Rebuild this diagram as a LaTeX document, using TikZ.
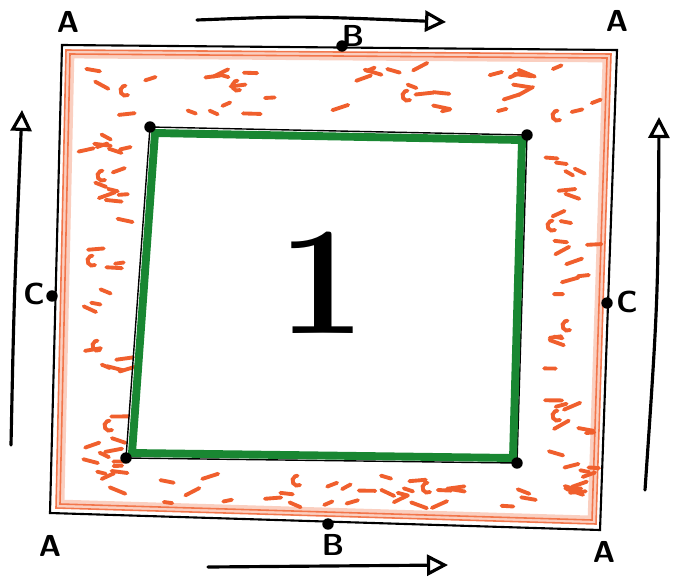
\documentclass[tikz,border=0pt]{standalone}
\usepackage{tikz}
\usetikzlibrary{arrows.meta,calc}

\definecolor{bandorange}{RGB}{240,95,45}
\definecolor{squaregreen}{RGB}{25,135,50}

\begin{document}
\begin{tikzpicture}[
    x=0.02cm, y=-0.02cm,
    edge/.style={draw=black, line width=1.2pt},
    band/.style={draw=bandorange, line width=5pt, opacity=0.3},
    bandline/.style={draw=bandorange, line width=0.9pt, opacity=0.8},
    scribble/.style={draw=bandorange, line width=2.2pt, line cap=round},
    greenedge/.style={draw=squaregreen, line width=4.5pt, line join=round},
    dot/.style={circle, fill=black, inner sep=0pt, minimum size=6.5pt},
    lbl/.style={font=\sffamily\LARGE\bfseries},
    arrow/.style={-{Triangle[open, length=4.2mm, width=4.2mm, line width=1.8pt]}, line width=1.8pt, line cap=round}
]
\useasboundingbox (0,0) rectangle (675,578);

% outer square corners
\coordinate (tl) at (62,45);
\coordinate (tr) at (617,50);
\coordinate (br) at (600,530);
\coordinate (bl) at (50,513);

% orange band just inside the outer square
\coordinate (otl) at (70,54);
\coordinate (otr) at (607,58);
\coordinate (obr) at (592,520);
\coordinate (obl) at (60,504);
\draw[band] (otl) -- (otr) -- (obr) -- (obl) -- cycle;
\draw[bandline] (otl) -- (otr) -- (obr) -- (obl) -- cycle;
\draw[bandline] ($(otl)+(-4,-4)$) -- ($(otr)+(4,-4)$) -- ($(obr)+(4,4)$) -- ($(obl)+(-4,4)$) -- cycle;

% scribbles in the band
\pgfmathsetseed{17}
\foreach \xa/\xb/\ya/\yb/\n in {82/598/68/115/36, 76/120/125/495/36, 543/590/142/510/32, 138/585/474/508/30} {
  \foreach \i in {1,...,\n} {
    \pgfmathsetmacro{\px}{\xa+(\xb-\xa)*rnd}
    \pgfmathsetmacro{\py}{\ya+(\yb-\ya)*rnd}
    \pgfmathsetmacro{\pa}{-30+60*rnd}
    \pgfmathsetmacro{\pl}{8+10*rnd}
    \draw[scribble] (\px,\py) -- ++(\pa:\pl);
  }
}
\foreach \px/\py in {128/95, 105/180, 95/265, 100/350, 112/430, 555/230, 570/330, 560/420, 300/485, 430/492, 240/90, 410/100, 560/120} {
  \draw[scribble] (\px,\py) arc[start angle=60, end angle=270, radius=5];
}

% outer square
\draw[edge] (tl) -- (tr) -- (br) -- (bl) -- cycle;

% inner square
\coordinate (itl) at (150,127);
\coordinate (itr) at (527,135);
\coordinate (ibr) at (517,463);
\coordinate (ibl) at (126,458);
\draw[edge, line width=0.8pt] (itl) -- (itr) -- (ibr) -- (ibl) -- cycle;
\draw[greenedge] (155,133) -- (522,140) -- (513,458) -- (132,453) -- cycle;
\foreach \c in {itl,itr,ibr,ibl} \node[dot] at (\c) {};

\node[font=\fontsize{88}{88}\selectfont\bfseries] (one) at (322,283) {1};

% midpoints
\node[dot] (btop) at (342,46) {};
\node[dot] (bbot) at (328,524) {};
\node[dot] (cleft) at (52,296) {};
\node[dot] (cright) at (607,303) {};

% labels
\node[lbl] (atl) at (68,22) {A};
\node[lbl] (atr) at (617,21) {A};
\node[lbl] (abl) at (50,546) {A};
\node[lbl] (abr) at (604,552) {A};
\node[lbl] (lbtop) at (353,36) {B};
\node[lbl] (lbbot) at (333,545) {B};
\node[lbl] (lcleft) at (34,294) {C};
\node[lbl] (lcright) at (627,302) {C};

% direction arrows
\coordinate (ta) at (197,20);
\coordinate (tb) at (446,22);
\coordinate (ba) at (208,567);
\coordinate (bb) at (448,565);
\coordinate (la) at (11,445);
\coordinate (lb) at (22,110);
\coordinate (ra) at (645,490);
\coordinate (rb) at (659,117);
\draw[arrow] (ta) .. controls (300,16) .. (tb);
\draw[arrow] (ba) -- (bb);
\draw[arrow] (la) .. controls (14,300) .. (lb);
\draw[arrow] (ra) .. controls (658,300) .. (rb);

\end{tikzpicture}
\end{document}
